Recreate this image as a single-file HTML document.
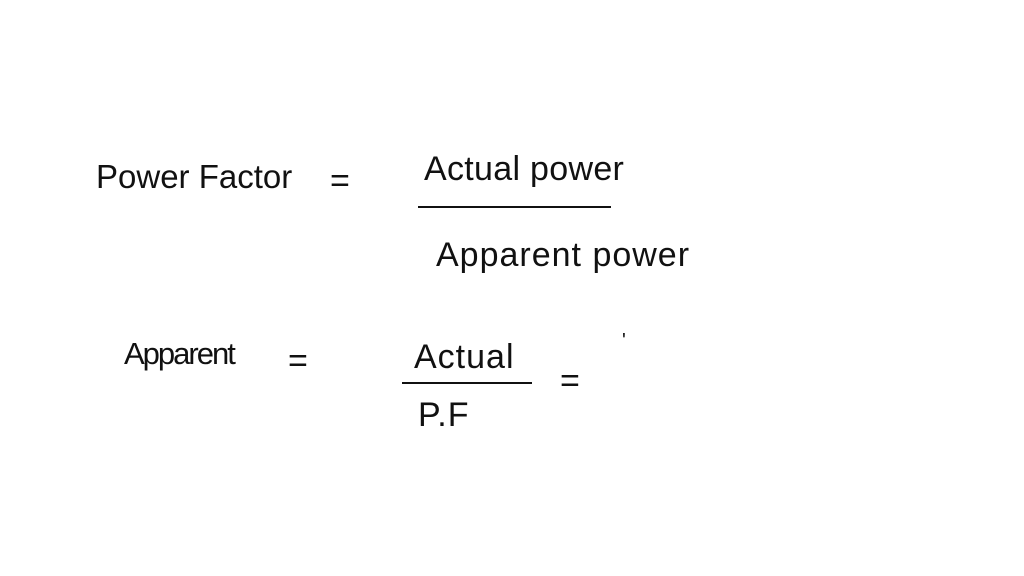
<!DOCTYPE html>
<html><head><style>
html,body{margin:0;padding:0;background:#fff;}
body{width:1024px;height:576px;position:relative;overflow:hidden;font-family:"Liberation Sans",sans-serif;color:#111;}
.t{position:absolute;font-size:34px;white-space:nowrap;letter-spacing:-1px;}
.l{position:absolute;background:#111;height:2px;}
</style></head><body>
<div class="t" style="left:96px;top:158px;font-size:33px;letter-spacing:0px;">Power Factor</div>
<div class="t" style="left:330px;top:162px;">=</div>
<div class="t" style="left:424px;top:150px;letter-spacing:0.3px;">Actual power</div>
<div class="l" style="left:418px;top:206px;width:193px;"></div>
<div class="t" style="left:436px;top:236px;letter-spacing:1px;">Apparent power</div>
<div class="t" style="left:124px;top:336px;font-size:31px;letter-spacing:-2px;">Apparent</div>
<div class="t" style="left:288px;top:342px;">=</div>
<div class="t" style="left:414px;top:338px;letter-spacing:1px;">Actual</div>
<div class="l" style="left:402px;top:382px;width:130px;"></div>
<div class="t" style="left:418px;top:396px;letter-spacing:1px;">P.F</div>
<div class="t" style="left:560px;top:362px;">=</div>
<div class="t" style="left:622px;top:330px;font-size:20px;">'</div>
</body></html>
